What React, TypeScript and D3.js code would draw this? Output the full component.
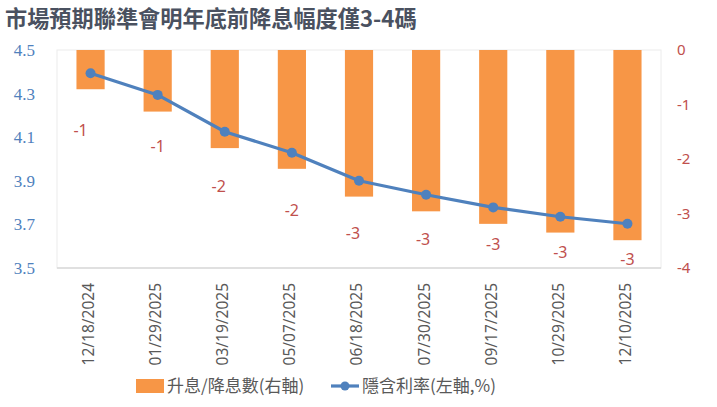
import React from "react";
import * as d3 from "d3";

const title = "市場預期聯準會明年底前降息幅度僅3-4碼";
const dates = ["12/18/2024", "01/29/2025", "03/19/2025", "05/07/2025", "06/18/2025", "07/30/2025", "09/17/2025", "10/29/2025", "12/10/2025"];
const cuts = [-0.72, -1.13, -1.8, -2.18, -2.69, -2.96, -3.19, -3.35, -3.49];
const rates = [4.393, 4.294, 4.125, 4.029, 3.9, 3.836, 3.778, 3.735, 3.703];
const cutLabels = ["-1", "-1", "-2", "-2", "-3", "-3", "-3", "-3", "-3"];
const labelAt = [-1.47, -1.77, -2.51, -2.94, -3.36, -3.47, -3.56, -3.72, -3.85];
const leftTicks = [4.5, 4.3, 4.1, 3.9, 3.7, 3.5];
const rightTicks = [0, -1, -2, -3, -4];
const legendBar = "升息/降息數(右軸)";
const legendLine = "隱含利率(左軸,%)";

const W = 717, H = 407;
const M = { left: 57, right: 661, top: 50, bottom: 268 };

export default function App() {
  const x = d3.scaleBand<string>().domain(dates).range([M.left, M.right]).paddingInner(0.58).paddingOuter(0.29);
  const xc = (d: string) => (x(d) as number) + x.bandwidth() / 2;
  const yL = d3.scaleLinear().domain([3.5, 4.5]).range([M.bottom, M.top]);
  const yR = d3.scaleLinear().domain([-4, 0]).range([M.bottom, M.top]);
  const line = d3.line<number>().x((_, i) => xc(dates[i])).y((v) => yL(v));
  const labelDx = [-10, 0, -6, 0, -6, -3, 0, 0, 0];

  return (
    <svg width={W} height={H} style={{ position: "absolute", left: 0, top: 0, background: "#fff" }}>
      <text x={5} y={27} fontFamily="'Noto Sans CJK TC', 'Noto Sans'" fontWeight="bold" fontSize={22.2} fill="#4a5160">{title}</text>
      <rect x={M.left} y={M.top} width={M.right - M.left} height={M.bottom - M.top} fill="none" stroke="#ececec" strokeWidth={1} />
      <line x1={M.left} x2={M.right} y1={M.bottom} y2={M.bottom} stroke="#d9d9d9" strokeWidth={1.5} />
      {dates.map((d, i) => (
        <rect key={d} x={x(d)} y={yR(0)} width={x.bandwidth()} height={yR(cuts[i]) - yR(0)} fill="#F79646" />
      ))}
      <path d={line(rates) || ""} fill="none" stroke="#4F81BD" strokeWidth={3.2} strokeLinejoin="round" />
      {rates.map((v, i) => (
        <circle key={i} cx={xc(dates[i])} cy={yL(v)} r={5} fill="#4F81BD" />
      ))}
      {cutLabels.map((t, i) => (
        <text key={i} x={xc(dates[i]) + labelDx[i]} y={yR(labelAt[i])} dy="0.35em" textAnchor="middle" fontFamily="'Noto Sans', sans-serif" fontSize={16} fill="#C0504D">{t}</text>
      ))}
      {leftTicks.map((t) => (
        <text key={t} x={35} y={yL(t)} dy="0.35em" textAnchor="end" fontFamily="'Liberation Serif', 'DejaVu Serif', serif" fontSize={17} fill="#4F81BD">{d3.format(".1f")(t)}</text>
      ))}
      {rightTicks.map((t) => (
        <text key={t} x={677} y={yR(t)} dy="0.35em" textAnchor="start" fontFamily="'Noto Sans', sans-serif" fontSize={15} fill="#C0504D">{t}</text>
      ))}
      {dates.map((d) => (
        <text key={d} transform={`translate(${xc(d) - 2},${283}) rotate(-90)`} dy="0.35em" textAnchor="end" fontFamily="'Noto Sans', sans-serif" fontSize={15.5} fill="#595959">{d}</text>
      ))}
      <rect x={136} y={379} width={28} height={14} fill="#F79646" />
      <text x={167} y={386} dy="0.35em" fontFamily="'Noto Sans CJK TC', sans-serif" fontSize={17} fill="#595959">{legendBar}</text>
      <line x1={331} x2={359} y1={386} y2={386} stroke="#4F81BD" strokeWidth={3.2} />
      <circle cx={345} cy={386} r={4.5} fill="#4F81BD" />
      <text x={362} y={386} dy="0.35em" fontFamily="'Noto Sans CJK TC', sans-serif" fontSize={17} fill="#595959">{legendLine}</text>
    </svg>
  );
}
